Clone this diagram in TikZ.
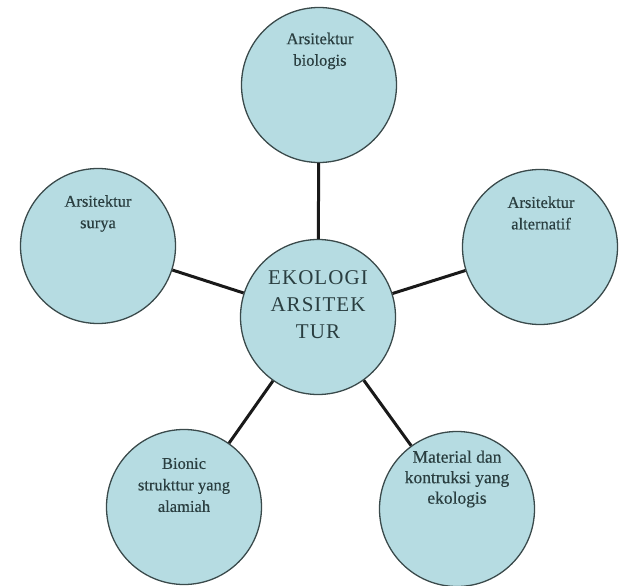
\documentclass[tikz,border=0pt]{standalone}
\usepackage{fontspec}
\setmainfont{Liberation Serif}
\newfontfamily\lblfont[FakeBold=0.4]{Liberation Serif}
\newfontfamily\bigfont[LetterSpace=5]{Liberation Serif}
\definecolor{bubfill}{HTML}{B6DCE2}
\definecolor{bordercol}{HTML}{3A4A4B}
\definecolor{txtcol}{HTML}{2A3E40}
\begin{document}
\begin{tikzpicture}[x=1pt,y=-1pt,
  bub/.style={circle, draw=bordercol, line width=1.3pt, fill=bubfill, minimum size=155pt, inner sep=0pt},
  lbl/.style={text=txtcol, font=\lblfont\fontsize{16.5}{21.5}\selectfont, align=center, inner sep=0pt},
  lblbig/.style={lbl, font=\lblfont\fontsize{17.5}{20.5}\selectfont},
  big/.style={text=txtcol, font=\bigfont\fontsize{21}{27}\selectfont, align=center, inner sep=0pt},
  conn/.style={line width=3pt, black!90}]
\useasboundingbox (0,0) rectangle (619,586);
\node[bub] (top) at (319,85) {};
\node[bub] (lft) at (98,246) {};
\node[bub] (rgt) at (540,247) {};
\node[bub] (ctr) at (318,317) {};
\node[bub] (bl) at (184,507) {};
\node[bub] (br) at (457,509) {};
\draw[conn] (top) -- (ctr);
\draw[conn] (lft) -- (ctr);
\draw[conn] (rgt) -- (ctr);
\draw[conn] (bl) -- (ctr);
\draw[conn] (br) -- (ctr);
\node[lbl] (ttop) at (320,51) {Arsitektur\\biologis};
\node[lbl] (tlft) at (98,213.5) {Arsitektur\\surya};
\node[lbl] (trgt) at (541,213) {Arsitektur\\alternatif};
\node[lbl] (tbl) at (184,485) {Bionic\\strukttur yang\\alamiah};
\node[lblbig] (tbr) at (457,479) {Material dan\\kontruksi yang\\ekologis};
\node[big] (tctr) at (318,305) {EKOLOGI\\ARSITEK\\TUR};
\end{tikzpicture}
\end{document}
